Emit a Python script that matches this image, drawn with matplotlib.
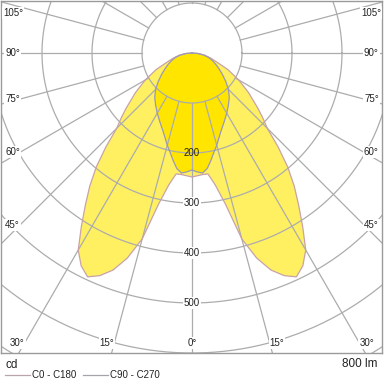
import numpy as np
import matplotlib.pyplot as plt
from matplotlib.lines import Line2D

plt.rcParams['font.family'] = ['Liberation Sans', 'DejaVu Sans']

# gamma angle from nadir (deg) and luminous intensity (cd), one half-plane (symmetric)
gamma_c0 = [0, 5, 7.5, 10, 12.5, 15, 17.5, 20, 22.5, 25, 27.5, 30, 32.5, 35,
            37.5, 40, 42.5, 45, 47.5, 50, 55, 60, 65, 70, 75, 80, 85, 90]
cd_c0 = [248, 244, 244, 268, 310, 385, 430, 462, 482, 494, 480, 455, 412, 372,
         336, 298, 255, 213, 192, 172, 138, 108, 80, 53, 38, 26, 14, 0]

gamma_c90 = [0, 2.5, 5, 7.5, 10, 12.5, 15, 20, 25, 30, 35, 40, 45, 50, 55,
             60, 65, 70, 75, 80, 85, 90]
cd_c90 = [234, 238, 241, 233, 218, 203, 191, 168, 152, 139, 127, 116, 103, 88,
          74, 62, 52, 43, 34, 24, 12, 0]

ring_values = [100, 200, 300, 400, 500, 600, 700]
ring_labels = [200, 300, 400, 500]
spoke_angles = np.arange(0, 360, 15)
side_angles = [45, 60, 75, 90, 105]
bottom_angles = [0, 15, 30]
flux_text = '800 lm'

grid_col = '#acacac'
txt_col = '#222222'


def polar_xy(gam, cd):
    g = np.radians(np.concatenate([-np.array(gam)[::-1], np.array(gam)[1:]]))
    r = np.concatenate([np.array(cd)[::-1], np.array(cd)[1:]])
    return r * np.sin(g), -r * np.cos(g)


fig = plt.figure(figsize=(3.84, 3.84), dpi=100)
ax = fig.add_axes([1 / 384, 1 - 353 / 384, 381 / 384, 352 / 384])
ax.set_xlim(-382, 380)
ax.set_ylim(-600, 104)
ax.set_xticks([])
ax.set_yticks([])
for s in ax.spines.values():
    s.set_color('#9a9a9a')
    s.set_linewidth(1)

# curves
x0, y0 = polar_xy(gamma_c0, cd_c0)
x9, y9 = polar_xy(gamma_c90, cd_c90)
ax.fill(x0, y0, color='#fff062', zorder=1, lw=0)
ax.fill(x9, y9, color='#ffe500', zorder=1.5, lw=0)

# grid
t = np.linspace(0, 2 * np.pi, 400)
for rv in ring_values:
    ax.plot(rv * np.cos(t), rv * np.sin(t), color=grid_col, lw=0.9, zorder=2)
for a in spoke_angles:
    ar = np.radians(a)
    ax.plot([-100 * np.sin(ar), -1000 * np.sin(ar)],
            [-100 * np.cos(ar), -1000 * np.cos(ar)],
            color=grid_col, lw=0.9, zorder=2)

ax.plot(x0, y0, color='#c8a2a8', lw=0.9, zorder=3)
ax.plot(x9, y9, color='#9b98b8', lw=0.9, zorder=3)

box = dict(boxstyle='square,pad=0.1', fc='white', ec='none')
for rv in ring_labels:
    ax.text(0, -rv, str(rv), ha='center', va='center', fontsize=7,
            color=txt_col, bbox=None if rv == 200 else box, zorder=4)

# angle labels
for a in side_angles:
    ar = np.radians(a)
    yy = min(-344 / np.tan(ar), 80)
    xx = -344 if a < 100 else -338
    ax.text(xx, yy, f'{a}°', ha='right', va='center', fontsize=7,
            color=txt_col, bbox=box, zorder=4)
    ax.text(-xx, yy, f'{a}°', ha='left', va='center', fontsize=7,
            color=txt_col, bbox=box, zorder=4)
for a in bottom_angles:
    xx = 580 * np.tan(np.radians(a))
    if a == 0:
        ax.text(0, -580, '0°', ha='center', va='center', fontsize=7,
                color=txt_col, bbox=box, zorder=4)
    else:
        ax.text(-xx, -580, f'{a}°', ha='right', va='center', fontsize=7,
                color=txt_col, bbox=box, zorder=4)
        ax.text(xx, -580, f'{a}°', ha='left', va='center', fontsize=7,
                color=txt_col, bbox=box, zorder=4)

# legend / footer
fig.text(6 / 384, 1 - 365 / 384, 'cd', fontsize=8.5, color=txt_col, va='center')
fig.text(377 / 384, 1 - 364 / 384, flux_text, fontsize=8.5, color=txt_col,
         va='center', ha='right')
fig.add_artist(Line2D([5 / 384, 30 / 384], [1 - 375 / 384] * 2, color='#b8a4aa', lw=0.9))
fig.text(32 / 384, 1 - 375 / 384, 'C0 - C180', fontsize=7, color=txt_col, va='center')
fig.add_artist(Line2D([83 / 384, 108 / 384], [1 - 375 / 384] * 2, color='#a4a4ac', lw=0.9))
fig.text(110 / 384, 1 - 375 / 384, 'C90 - C270', fontsize=7, color=txt_col, va='center')

fig.savefig('out.png', dpi=100)
